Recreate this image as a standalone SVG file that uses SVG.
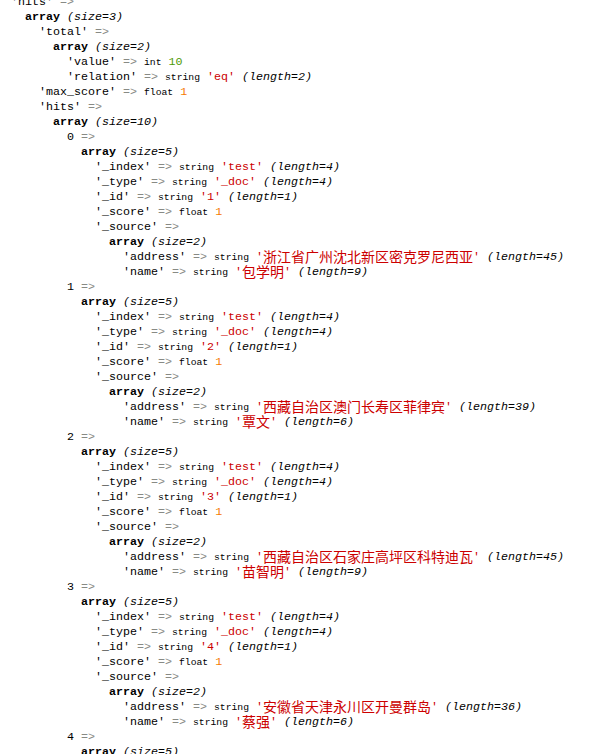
<svg xmlns="http://www.w3.org/2000/svg" width="601" height="754" viewBox="0 0 601 754">
<style>
text { font-family: "Liberation Mono", "DejaVu Sans Mono", monospace; font-size: 11.67px; fill: #000000; }
.b { font-weight: bold; }
.i { font-style: italic; }
.g { fill: #888a85; }
.s { font-size: 9.72px; }
.r { fill: #cc0000; }
.n { fill: #4e9a06; }
.f { fill: #f57900; }
.c { font-family: "Noto Sans CJK SC", "Noto Sans CJK JP", sans-serif; font-size: 14px; }
</style>
<rect x="0" y="0" width="601" height="754" fill="#ffffff"/>
<g id="root">
<text y="5"><tspan x="11">'hits'</tspan><tspan x="60" class="g">=&gt;</tspan></text>
<text y="20"><tspan x="25" class="b">array</tspan><tspan x="67" class="i">(size=3)</tspan></text>
<text y="35"><tspan x="39">'total'</tspan><tspan x="95" class="g">=&gt;</tspan></text>
<text y="50"><tspan x="53" class="b">array</tspan><tspan x="95" class="i">(size=2)</tspan></text>
<text y="65"><tspan x="67">'value'</tspan><tspan x="123" class="g">=&gt;</tspan><tspan x="144" class="s">int</tspan><tspan x="168.5" class="n">10</tspan></text>
<text y="80"><tspan x="67">'relation'</tspan><tspan x="144" class="g">=&gt;</tspan><tspan x="165" class="s">string</tspan><tspan x="207" class="r">'eq'</tspan><tspan x="242" class="i">(length=2)</tspan></text>
<text y="95"><tspan x="39">'max_score'</tspan><tspan x="123" class="g">=&gt;</tspan><tspan x="144" class="s">float</tspan><tspan x="180.2" class="f">1</tspan></text>
<text y="110"><tspan x="39">'hits'</tspan><tspan x="88" class="g">=&gt;</tspan></text>
<text y="125"><tspan x="53" class="b">array</tspan><tspan x="95" class="i">(size=10)</tspan></text>
</g>
<g id="hit-0">
<text y="140"><tspan x="67">0</tspan><tspan x="81" class="g">=&gt;</tspan></text>
<text y="155"><tspan x="81" class="b">array</tspan><tspan x="123" class="i">(size=5)</tspan></text>
<text y="170"><tspan x="95">'_index'</tspan><tspan x="158" class="g">=&gt;</tspan><tspan x="179" class="s">string</tspan><tspan x="221" class="r">'test'</tspan><tspan x="270" class="i">(length=4)</tspan></text>
<text y="185"><tspan x="95">'_type'</tspan><tspan x="151" class="g">=&gt;</tspan><tspan x="172" class="s">string</tspan><tspan x="214" class="r">'_doc'</tspan><tspan x="263" class="i">(length=4)</tspan></text>
<text y="200"><tspan x="95">'_id'</tspan><tspan x="137" class="g">=&gt;</tspan><tspan x="158" class="s">string</tspan><tspan x="200" class="r">'1'</tspan><tspan x="228" class="i">(length=1)</tspan></text>
<text y="215"><tspan x="95">'_score'</tspan><tspan x="158" class="g">=&gt;</tspan><tspan x="179" class="s">float</tspan><tspan x="215.2" class="f">1</tspan></text>
<text y="230"><tspan x="95">'_source'</tspan><tspan x="165" class="g">=&gt;</tspan></text>
<text y="245"><tspan x="109" class="b">array</tspan><tspan x="151" class="i">(size=2)</tspan></text>
<text y="260"><tspan x="123">'address'</tspan><tspan x="193" class="g">=&gt;</tspan><tspan x="214" class="s">string</tspan><tspan x="256" class="r">'</tspan><tspan x="263" y="262" class="r c" textLength="210" lengthAdjust="spacing">浙江省广州沈北新区密克罗尼西亚</tspan><tspan x="473" y="260" class="r">'</tspan><tspan x="487" class="i">(length=45)</tspan></text>
<text y="275"><tspan x="123">'name'</tspan><tspan x="172" class="g">=&gt;</tspan><tspan x="193" class="s">string</tspan><tspan x="235" class="r">'</tspan><tspan x="242" y="277" class="r c" textLength="42" lengthAdjust="spacing">包学明</tspan><tspan x="284" y="275" class="r">'</tspan><tspan x="298" class="i">(length=9)</tspan></text>
</g>
<g id="hit-1">
<text y="290"><tspan x="67">1</tspan><tspan x="81" class="g">=&gt;</tspan></text>
<text y="305"><tspan x="81" class="b">array</tspan><tspan x="123" class="i">(size=5)</tspan></text>
<text y="320"><tspan x="95">'_index'</tspan><tspan x="158" class="g">=&gt;</tspan><tspan x="179" class="s">string</tspan><tspan x="221" class="r">'test'</tspan><tspan x="270" class="i">(length=4)</tspan></text>
<text y="335"><tspan x="95">'_type'</tspan><tspan x="151" class="g">=&gt;</tspan><tspan x="172" class="s">string</tspan><tspan x="214" class="r">'_doc'</tspan><tspan x="263" class="i">(length=4)</tspan></text>
<text y="350"><tspan x="95">'_id'</tspan><tspan x="137" class="g">=&gt;</tspan><tspan x="158" class="s">string</tspan><tspan x="200" class="r">'2'</tspan><tspan x="228" class="i">(length=1)</tspan></text>
<text y="365"><tspan x="95">'_score'</tspan><tspan x="158" class="g">=&gt;</tspan><tspan x="179" class="s">float</tspan><tspan x="215.2" class="f">1</tspan></text>
<text y="380"><tspan x="95">'_source'</tspan><tspan x="165" class="g">=&gt;</tspan></text>
<text y="395"><tspan x="109" class="b">array</tspan><tspan x="151" class="i">(size=2)</tspan></text>
<text y="410"><tspan x="123">'address'</tspan><tspan x="193" class="g">=&gt;</tspan><tspan x="214" class="s">string</tspan><tspan x="256" class="r">'</tspan><tspan x="263" y="412" class="r c" textLength="182" lengthAdjust="spacing">西藏自治区澳门长寿区菲律宾</tspan><tspan x="445" y="410" class="r">'</tspan><tspan x="459" class="i">(length=39)</tspan></text>
<text y="425"><tspan x="123">'name'</tspan><tspan x="172" class="g">=&gt;</tspan><tspan x="193" class="s">string</tspan><tspan x="235" class="r">'</tspan><tspan x="242" y="427" class="r c" textLength="28" lengthAdjust="spacing">覃文</tspan><tspan x="270" y="425" class="r">'</tspan><tspan x="284" class="i">(length=6)</tspan></text>
</g>
<g id="hit-2">
<text y="440"><tspan x="67">2</tspan><tspan x="81" class="g">=&gt;</tspan></text>
<text y="455"><tspan x="81" class="b">array</tspan><tspan x="123" class="i">(size=5)</tspan></text>
<text y="470"><tspan x="95">'_index'</tspan><tspan x="158" class="g">=&gt;</tspan><tspan x="179" class="s">string</tspan><tspan x="221" class="r">'test'</tspan><tspan x="270" class="i">(length=4)</tspan></text>
<text y="485"><tspan x="95">'_type'</tspan><tspan x="151" class="g">=&gt;</tspan><tspan x="172" class="s">string</tspan><tspan x="214" class="r">'_doc'</tspan><tspan x="263" class="i">(length=4)</tspan></text>
<text y="500"><tspan x="95">'_id'</tspan><tspan x="137" class="g">=&gt;</tspan><tspan x="158" class="s">string</tspan><tspan x="200" class="r">'3'</tspan><tspan x="228" class="i">(length=1)</tspan></text>
<text y="515"><tspan x="95">'_score'</tspan><tspan x="158" class="g">=&gt;</tspan><tspan x="179" class="s">float</tspan><tspan x="215.2" class="f">1</tspan></text>
<text y="530"><tspan x="95">'_source'</tspan><tspan x="165" class="g">=&gt;</tspan></text>
<text y="545"><tspan x="109" class="b">array</tspan><tspan x="151" class="i">(size=2)</tspan></text>
<text y="560"><tspan x="123">'address'</tspan><tspan x="193" class="g">=&gt;</tspan><tspan x="214" class="s">string</tspan><tspan x="256" class="r">'</tspan><tspan x="263" y="562" class="r c" textLength="210" lengthAdjust="spacing">西藏自治区石家庄高坪区科特迪瓦</tspan><tspan x="473" y="560" class="r">'</tspan><tspan x="487" class="i">(length=45)</tspan></text>
<text y="575"><tspan x="123">'name'</tspan><tspan x="172" class="g">=&gt;</tspan><tspan x="193" class="s">string</tspan><tspan x="235" class="r">'</tspan><tspan x="242" y="577" class="r c" textLength="42" lengthAdjust="spacing">苗智明</tspan><tspan x="284" y="575" class="r">'</tspan><tspan x="298" class="i">(length=9)</tspan></text>
</g>
<g id="hit-3">
<text y="590"><tspan x="67">3</tspan><tspan x="81" class="g">=&gt;</tspan></text>
<text y="605"><tspan x="81" class="b">array</tspan><tspan x="123" class="i">(size=5)</tspan></text>
<text y="620"><tspan x="95">'_index'</tspan><tspan x="158" class="g">=&gt;</tspan><tspan x="179" class="s">string</tspan><tspan x="221" class="r">'test'</tspan><tspan x="270" class="i">(length=4)</tspan></text>
<text y="635"><tspan x="95">'_type'</tspan><tspan x="151" class="g">=&gt;</tspan><tspan x="172" class="s">string</tspan><tspan x="214" class="r">'_doc'</tspan><tspan x="263" class="i">(length=4)</tspan></text>
<text y="650"><tspan x="95">'_id'</tspan><tspan x="137" class="g">=&gt;</tspan><tspan x="158" class="s">string</tspan><tspan x="200" class="r">'4'</tspan><tspan x="228" class="i">(length=1)</tspan></text>
<text y="665"><tspan x="95">'_score'</tspan><tspan x="158" class="g">=&gt;</tspan><tspan x="179" class="s">float</tspan><tspan x="215.2" class="f">1</tspan></text>
<text y="680"><tspan x="95">'_source'</tspan><tspan x="165" class="g">=&gt;</tspan></text>
<text y="695"><tspan x="109" class="b">array</tspan><tspan x="151" class="i">(size=2)</tspan></text>
<text y="710"><tspan x="123">'address'</tspan><tspan x="193" class="g">=&gt;</tspan><tspan x="214" class="s">string</tspan><tspan x="256" class="r">'</tspan><tspan x="263" y="712" class="r c" textLength="168" lengthAdjust="spacing">安徽省天津永川区开曼群岛</tspan><tspan x="431" y="710" class="r">'</tspan><tspan x="445" class="i">(length=36)</tspan></text>
<text y="725"><tspan x="123">'name'</tspan><tspan x="172" class="g">=&gt;</tspan><tspan x="193" class="s">string</tspan><tspan x="235" class="r">'</tspan><tspan x="242" y="727" class="r c" textLength="28" lengthAdjust="spacing">蔡强</tspan><tspan x="270" y="725" class="r">'</tspan><tspan x="284" class="i">(length=6)</tspan></text>
</g>
<g id="hit-4">
<text y="740"><tspan x="67">4</tspan><tspan x="81" class="g">=&gt;</tspan></text>
<text y="755"><tspan x="81" class="b">array</tspan><tspan x="123" class="i">(size=5)</tspan></text>
</g>
<g id="connectors"></g>
</svg>
